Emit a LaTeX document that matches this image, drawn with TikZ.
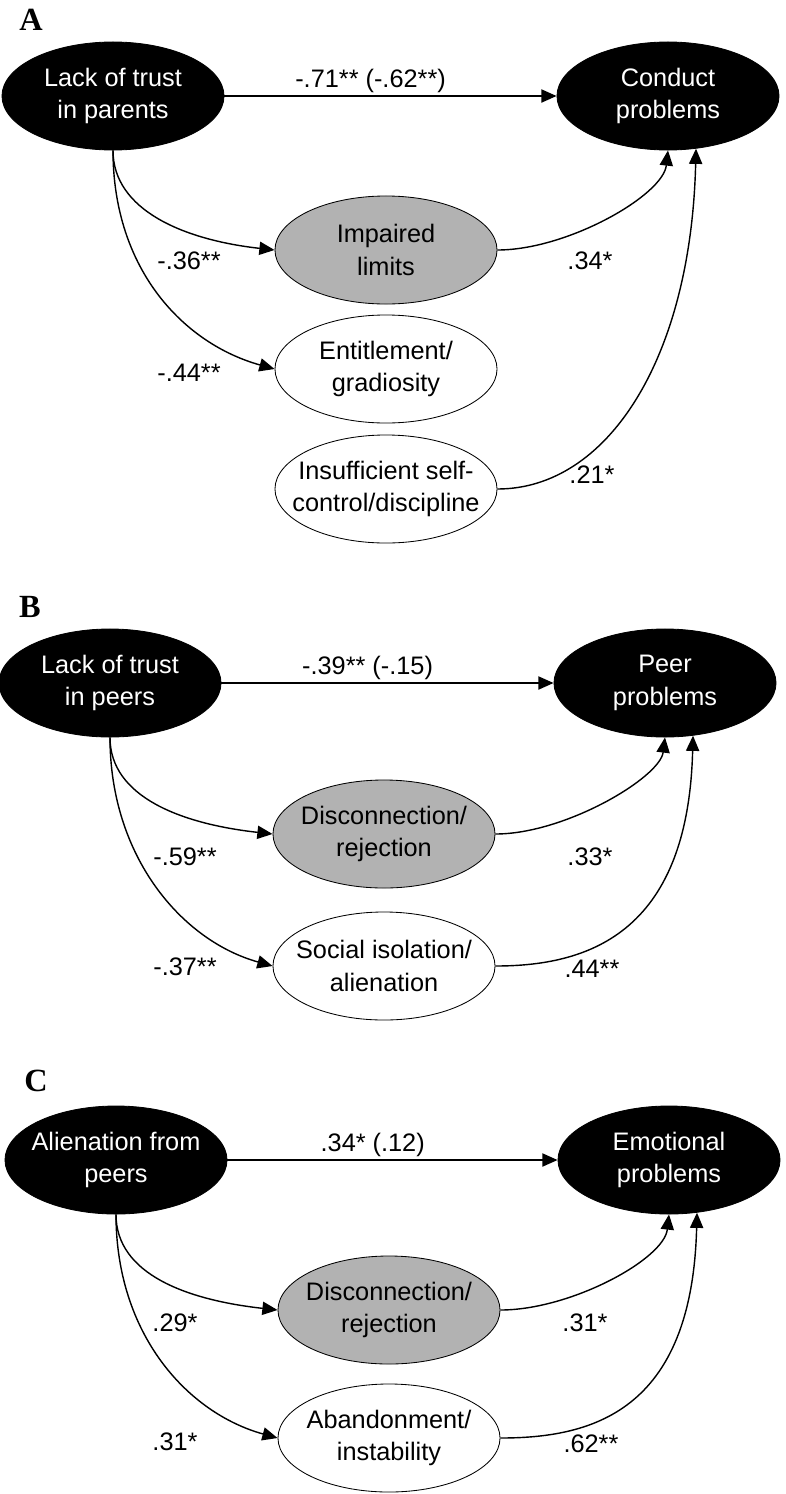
\documentclass[tikz,border=0pt]{standalone}
\usepackage{fontspec}
\setmainfont{Liberation Sans}
\newfontfamily\panelfont{Liberation Serif}
\usetikzlibrary{shapes.geometric,arrows.meta}
\begin{document}
\begin{tikzpicture}[x=0.025cm,y=0.025cm,
    var/.style={ellipse,draw,line width=0.6pt,minimum width=5.55cm,minimum height=2.7cm,inner xsep=-0.5cm,inner ysep=0pt,align=center,font=\fontsize{18}{23}\selectfont},
    dark/.style={var,fill=black,text=white},
    shaded/.style={var,fill=black!30},
    link/.style={line width=1pt,-{Triangle[length=0.38cm,width=0.33cm]}},
    coef/.style={font=\fontsize{18}{23}\selectfont,inner sep=1.5pt},
    panel/.style={font=\panelfont\bfseries\fontsize{23}{27}\selectfont}]
    \useasboundingbox (0,0) rectangle (786,-1494);
    % A
    \node[panel] (pa) at (31,-20) {A};
    \node[dark] (a1) at (113,-96) {Lack of trust\\in parents};
    \node[dark] (a2) at (668,-96) {Conduct\\problems};
    \node[shaded] (a3) at (386,-250) {Impaired\\limits};
    \node[var] (a4) at (386,-369) {Entitlement/\\gradiosity};
    \node[var] (a5) at (386,-489) {Insufficient self-\\control/discipline};
    \draw[link] (a1) -- node[coef,above,pos=0.44]{-.71** (-.62**)} (a2);
    \draw[link] (a1.south) .. controls +(0,-60) and +(-90,10) .. (a3.west);
    \draw[link] (a1.south) .. controls +(0,-120) and +(-90,25) .. (a4.west);
    \draw[link] (a3.east) .. controls +(70,0) and +(-5,-45) .. (a2.south);
    \draw[link] (a5.east) .. controls +(110,0) and +(-5,-210) .. (a2.-62);
    \node[coef] (ka) at (189,-261) {-.36**};
    \node[coef] (kb) at (189,-373) {-.44**};
    \node[coef] (kc) at (590,-261) {.34*};
    \node[coef] (kd) at (592,-475) {.21*};
    % B
    \node[panel] (pb) at (30,-607) {B};
    \node[dark] (b1) at (110,-683) {Lack of trust\\in peers};
    \node[dark] (b2) at (665,-683) {Peer\\problems};
    \node[shaded] (b3) at (384,-834) {Disconnection/\\rejection};
    \node[var] (b4) at (384,-966) {Social isolation/\\alienation};
    \draw[link] (b1) -- node[coef,above,pos=0.44]{-.39** (-.15)} (b2);
    \draw[link] (b1.south) .. controls +(0,-60) and +(-90,10) .. (b3.west);
    \draw[link] (b1.south) .. controls +(0,-120) and +(-90,25) .. (b4.west);
    \draw[link] (b3.east) .. controls +(70,0) and +(-5,-40) .. (b2.south);
    \draw[link] (b4.east) .. controls +(90,0) and +(-5,-200) .. (b2.-62);
    \node[coef] (ke) at (185,-857) {-.59**};
    \node[coef] (kf) at (590,-857) {.33*};
    \node[coef] (kg) at (185,-967) {-.37**};
    \node[coef] (kh) at (592,-969) {.44**};
    % C
    \node[panel] (pc) at (36,-1081) {C};
    \node[dark] (c1) at (116,-1160) {Alienation from\\peers};
    \node[dark] (c2) at (669,-1160) {Emotional\\problems};
    \node[shaded] (c3) at (389,-1310) {Disconnection/\\rejection};
    \node[var] (c4) at (389,-1438) {Abandonment/\\instability};
    \draw[link] (c1) -- node[coef,above,pos=0.44]{.34* (.12)} (c2);
    \draw[link] (c1.south) .. controls +(0,-60) and +(-90,10) .. (c3.west);
    \draw[link] (c1.south) .. controls +(0,-120) and +(-90,25) .. (c4.west);
    \draw[link] (c3.east) .. controls +(70,0) and +(-5,-45) .. (c2.south);
    \draw[link] (c4.east) .. controls +(90,0) and +(-5,-200) .. (c2.-62);
    \node[coef] (ki) at (175,-1323) {.29*};
    \node[coef] (kj) at (585,-1323) {.31*};
    \node[coef] (kk) at (175,-1442) {.31*};
    \node[coef] (kl) at (591,-1444) {.62**};
\end{tikzpicture}
\end{document}
